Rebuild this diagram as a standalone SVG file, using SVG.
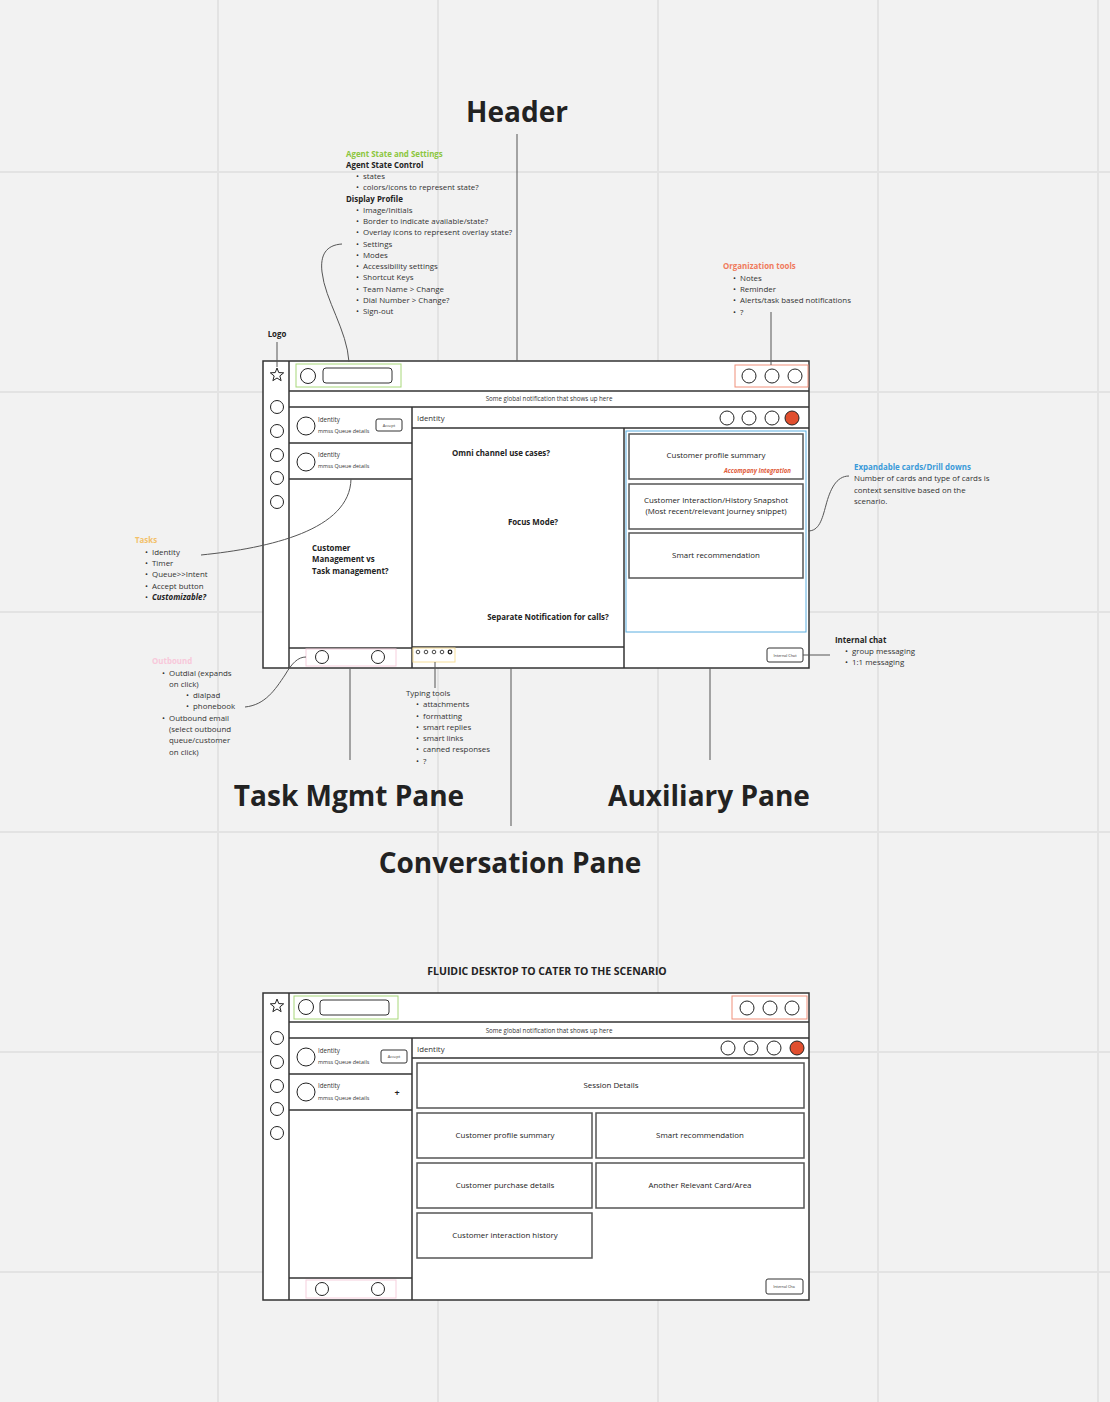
<svg xmlns="http://www.w3.org/2000/svg" xmlns:xlink="http://www.w3.org/1999/xlink" width="1110" height="1402" viewBox="0 0 1110 1402">
<style>
text{font-family:"Open Sans","Liberation Sans",sans-serif;fill:#333}
.ann{font-size:7.9px}
.b{font-weight:700}
.big{font-size:28px;font-weight:700;fill:#222;text-anchor:middle}
.card{font-size:7.9px;text-anchor:middle;fill:#222}
.q{font-size:7.9px;font-weight:700;fill:#222}
.sm{font-size:6.2px;fill:#333}
.xs{font-size:5.4px;fill:#333}
.notif{font-size:6.2px;text-anchor:middle;fill:#333}
.frame{fill:#fff;stroke:#333;stroke-width:1.5}
.ln{stroke:#333;stroke-width:1.5;fill:none}
.cardr{fill:#fff;stroke:#555;stroke-width:1.5}
.c{fill:#fff;stroke:#222;stroke-width:1}
.conn{fill:none;stroke:#555;stroke-width:1}
.grid{stroke:#e3e3e3;stroke-width:2}
.btn{fill:#fff;stroke:#333;stroke-width:1}
</style>
<defs>
<path id="star" d="M0,-7 L1.76,-2.43 L6.66,-2.16 L2.85,0.93 L4.11,5.66 L0,3 L-4.11,5.66 L-2.85,0.93 L-6.66,-2.16 L-1.76,-2.43 Z" fill="#fff" stroke="#222" stroke-width="1"/>
</defs>
<rect width="1110" height="1402" fill="#f2f2f2"/>
<g id="grid">
<line class="grid" x1="218" y1="0" x2="218" y2="1402"/>
<line class="grid" x1="438" y1="0" x2="438" y2="1402"/>
<line class="grid" x1="658" y1="0" x2="658" y2="1402"/>
<line class="grid" x1="878" y1="0" x2="878" y2="1402"/>
<line class="grid" x1="1098" y1="0" x2="1098" y2="1402"/>
<line class="grid" x1="0" y1="172" x2="1110" y2="172"/>
<line class="grid" x1="0" y1="392" x2="1110" y2="392"/>
<line class="grid" x1="0" y1="612" x2="1110" y2="612"/>
<line class="grid" x1="0" y1="832" x2="1110" y2="832"/>
<line class="grid" x1="0" y1="1052" x2="1110" y2="1052"/>
<line class="grid" x1="0" y1="1272" x2="1110" y2="1272"/>
</g>

<g id="big-labels">
<text class="big" x="517" y="122">Header</text>
<text class="big" x="349" y="806">Task Mgmt Pane</text>
<text class="big" x="709" y="806">Auxiliary Pane</text>
<text class="big" x="510" y="873">Conversation Pane</text>
</g>

<g id="note-agent">
<text class="ann b" x="346" y="157" style="fill:#8cc63e">Agent State and Settings</text>
<text class="ann b" x="346" y="168" style="fill:#222">Agent State Control</text>
<text class="ann" x="356" y="179">•</text><text class="ann" x="363" y="179">states</text>
<text class="ann" x="356" y="190">•</text><text class="ann" x="363" y="190">colors/icons to represent state?</text>
<text class="ann b" x="346" y="202" style="fill:#222">Display Profile</text>
<text class="ann" x="356" y="213">•</text><text class="ann" x="363" y="213">Image/Initials</text>
<text class="ann" x="356" y="224">•</text><text class="ann" x="363" y="224">Border to indicate available/state?</text>
<text class="ann" x="356" y="235">•</text><text class="ann" x="363" y="235">Overlay icons to represent overlay state?</text>
<text class="ann" x="356" y="247">•</text><text class="ann" x="363" y="247">Settings</text>
<text class="ann" x="356" y="258">•</text><text class="ann" x="363" y="258">Modes</text>
<text class="ann" x="356" y="269">•</text><text class="ann" x="363" y="269">Accessibility settings</text>
<text class="ann" x="356" y="280">•</text><text class="ann" x="363" y="280">Shortcut Keys</text>
<text class="ann" x="356" y="292">•</text><text class="ann" x="363" y="292">Team Name &gt; Change</text>
<text class="ann" x="356" y="303">•</text><text class="ann" x="363" y="303">Dial Number &gt; Change?</text>
<text class="ann" x="356" y="314">•</text><text class="ann" x="363" y="314">Sign-out</text>
</g>

<g id="note-logo"><text class="ann b" x="277" y="337" text-anchor="middle" style="fill:#222">Logo</text></g>

<g id="note-org">
<text class="ann b" x="723" y="269" style="fill:#f07a5c">Organization tools</text>
<text class="ann" x="733" y="281">•</text><text class="ann" x="740" y="281">Notes</text>
<text class="ann" x="733" y="292">•</text><text class="ann" x="740" y="292">Reminder</text>
<text class="ann" x="733" y="303">•</text><text class="ann" x="740" y="303">Alerts/task based notifications</text>
<text class="ann" x="733" y="315">•</text><text class="ann" x="740" y="315">?</text>
</g>

<g id="note-cards">
<text class="ann b" x="854" y="470" style="fill:#3a9ad9">Expandable cards/Drill downs</text>
<text class="ann" x="854" y="481">Number of cards and type of cards is</text>
<text class="ann" x="854" y="493">context sensitive based on the</text>
<text class="ann" x="854" y="504">scenario.</text>
</g>

<g id="note-tasks">
<text class="ann b" x="135" y="543" style="fill:#f3c16a">Tasks</text>
<text class="ann" x="145" y="555">•</text><text class="ann" x="152" y="555">Identity</text>
<text class="ann" x="145" y="566">•</text><text class="ann" x="152" y="566">Timer</text>
<text class="ann" x="145" y="577">•</text><text class="ann" x="152" y="577">Queue&gt;&gt;Intent</text>
<text class="ann" x="145" y="589">•</text><text class="ann" x="152" y="589">Accept button</text>
<text class="ann" x="145" y="600">•</text><text class="ann b" x="152" y="600" style="font-style:italic;fill:#222">Customizable?</text>
</g>

<g id="note-outbound">
<text class="ann b" x="152" y="664" style="fill:#f8c8da">Outbound</text>
<text class="ann" x="162" y="676">•</text><text class="ann" x="169" y="676">Outdial (expands</text>
<text class="ann" x="169" y="687">on click)</text>
<text class="ann" x="186" y="698">•</text><text class="ann" x="193" y="698">dialpad</text>
<text class="ann" x="186" y="709">•</text><text class="ann" x="193" y="709">phonebook</text>
<text class="ann" x="162" y="721">•</text><text class="ann" x="169" y="721">Outbound email</text>
<text class="ann" x="169" y="732">(select outbound</text>
<text class="ann" x="169" y="743">queue/customer</text>
<text class="ann" x="169" y="755">on click)</text>
</g>

<g id="note-typing">
<text class="ann" x="406" y="696">Typing tools</text>
<text class="ann" x="416" y="707">•</text><text class="ann" x="423" y="707">attachments</text>
<text class="ann" x="416" y="719">•</text><text class="ann" x="423" y="719">formatting</text>
<text class="ann" x="416" y="730">•</text><text class="ann" x="423" y="730">smart replies</text>
<text class="ann" x="416" y="741">•</text><text class="ann" x="423" y="741">smart links</text>
<text class="ann" x="416" y="752">•</text><text class="ann" x="423" y="752">canned responses</text>
<text class="ann" x="416" y="764">•</text><text class="ann" x="423" y="764">?</text>
</g>

<g id="note-chat">
<text class="ann b" x="835" y="643" style="fill:#222">Internal chat</text>
<text class="ann" x="845" y="654">•</text><text class="ann" x="852" y="654">group messaging</text>
<text class="ann" x="845" y="665">•</text><text class="ann" x="852" y="665">1:1 messaging</text>
</g>

<g id="wireframe-1">
<rect class="frame" x="263" y="361" width="546" height="307"/>
<line class="ln" x1="289" y1="361" x2="289" y2="668"/>
<line class="ln" x1="289" y1="391" x2="809" y2="391"/>
<line class="ln" x1="289" y1="407" x2="809" y2="407"/>
<line class="ln" x1="412" y1="407" x2="412" y2="668"/>
<line class="ln" x1="289" y1="443" x2="412" y2="443"/>
<line class="ln" x1="289" y1="479" x2="412" y2="479"/>
<line class="ln" x1="289" y1="648" x2="412" y2="648"/>
<line class="ln" x1="412" y1="428" x2="809" y2="428"/>
<line class="ln" x1="624" y1="428" x2="624" y2="668"/>
<line class="ln" x1="412" y1="647" x2="624" y2="647"/>
<use href="#star" x="277" y="375"/>
<circle class="c" cx="277" cy="407" r="6.5"/>
<circle class="c" cx="277" cy="431" r="6.5"/>
<circle class="c" cx="277" cy="455" r="6.5"/>
<circle class="c" cx="277" cy="478" r="6.5"/>
<circle class="c" cx="277" cy="502" r="6.5"/>
<rect x="296" y="364" width="105" height="23" fill="none" stroke="#a8d87a" stroke-width="1"/>
<circle class="c" cx="308" cy="376" r="7.5"/>
<rect x="323" y="368" width="69" height="15" rx="3" fill="#fff" stroke="#333" stroke-width="1"/>
<rect x="735" y="365" width="73" height="22" fill="none" stroke="#f0907a" stroke-width="1"/>
<circle class="c" cx="749" cy="376" r="7"/>
<circle class="c" cx="772" cy="376" r="7"/>
<circle class="c" cx="795" cy="376" r="7"/>
<text class="notif" x="549" y="401">Some global notification that shows up here</text>
<circle class="c" cx="306" cy="426" r="9"/>
<text class="sm" x="318" y="422">Identity</text>
<text class="xs" x="318" y="433">mmss  Queue details</text>
<rect class="btn" x="376" y="419" width="26" height="12" rx="2"/>
<text class="xs" x="389" y="427" text-anchor="middle" style="font-size:4px">Accept</text>
<circle class="c" cx="306" cy="462" r="9"/>
<text class="sm" x="318" y="457">Identity</text>
<text class="xs" x="318" y="468">mmss  Queue details</text>
<text class="q" x="312" y="551">Customer</text>
<text class="q" x="312" y="562">Management vs</text>
<text class="q" x="312" y="574">Task management?</text>
<rect x="306" y="649" width="90" height="17" fill="#fff" stroke="#f6cfdd" stroke-width="1"/>
<circle class="c" cx="322" cy="657" r="6.5"/>
<circle class="c" cx="378" cy="657" r="6.5"/>
<text class="sm" x="417" y="421" style="font-size:7.8px">Identity</text>
<circle class="c" cx="727" cy="418" r="7"/>
<circle class="c" cx="749" cy="418" r="7"/>
<circle class="c" cx="772" cy="418" r="7"/>
<circle cx="792" cy="418" r="7" fill="#e04e2e" stroke="#222" stroke-width="1"/>
<text class="q" x="501" y="456" text-anchor="middle">Omni channel use cases?</text>
<text class="q" x="533" y="525" text-anchor="middle">Focus Mode?</text>
<text class="q" x="548" y="620" text-anchor="middle">Separate Notification for calls?</text>
<rect x="413" y="648" width="42" height="14" fill="#fff" stroke="#f7df9a" stroke-width="1"/>
<circle cx="418" cy="652" r="1.8" fill="none" stroke="#333" stroke-width="0.9"/>
<circle cx="426" cy="652" r="1.8" fill="none" stroke="#333" stroke-width="0.9"/>
<circle cx="434" cy="652" r="1.8" fill="none" stroke="#333" stroke-width="0.9"/>
<circle cx="442" cy="652" r="1.8" fill="none" stroke="#333" stroke-width="0.9"/>
<circle cx="450" cy="652" r="1.8" fill="none" stroke="#222" stroke-width="1.3"/>
<rect x="626" y="431" width="180" height="201" fill="#fff" stroke="#5aaee0" stroke-width="1"/>
<rect class="cardr" x="629" y="434" width="174" height="45"/>
<text class="card" x="716" y="458">Customer profile summary</text>
<text x="791" y="473" text-anchor="end" style="font-size:6.1px;font-weight:700;font-style:italic;fill:#e05a3a">Accompany Integration</text>
<rect class="cardr" x="629" y="484" width="174" height="45"/>
<text class="card" x="716" y="503">Customer Interaction/History Snapshot</text>
<text class="card" x="716" y="514">(Most recent/relevant journey snippet)</text>
<rect class="cardr" x="629" y="533" width="174" height="45"/>
<text class="card" x="716" y="558">Smart recommendation</text>
<rect class="btn" x="767" y="648" width="36" height="14" rx="2"/>
<text class="xs" x="785" y="657" text-anchor="middle" style="font-size:3.8px">Internal Chat</text>
</g>

<g id="title-2"><text x="547" y="975" text-anchor="middle" style="font-size:10.5px;font-weight:700;fill:#222">FLUIDIC DESKTOP TO CATER TO THE SCENARIO</text></g>

<g id="wireframe-2">
<rect class="frame" x="263" y="993" width="546" height="307"/>
<line class="ln" x1="289" y1="993" x2="289" y2="1300"/>
<line class="ln" x1="289" y1="1022" x2="809" y2="1022"/>
<line class="ln" x1="289" y1="1038" x2="809" y2="1038"/>
<line class="ln" x1="412" y1="1038" x2="412" y2="1300"/>
<line class="ln" x1="289" y1="1074" x2="412" y2="1074"/>
<line class="ln" x1="289" y1="1110" x2="412" y2="1110"/>
<line class="ln" x1="289" y1="1278" x2="412" y2="1278"/>
<line class="ln" x1="412" y1="1058" x2="809" y2="1058"/>
<use href="#star" x="277" y="1006"/>
<circle class="c" cx="277" cy="1038" r="6.5"/>
<circle class="c" cx="277" cy="1062" r="6.5"/>
<circle class="c" cx="277" cy="1086" r="6.5"/>
<circle class="c" cx="277" cy="1109" r="6.5"/>
<circle class="c" cx="277" cy="1133" r="6.5"/>
<rect x="294" y="996" width="104" height="23" fill="none" stroke="#a8d87a" stroke-width="1"/>
<circle class="c" cx="306" cy="1007" r="7.5"/>
<rect x="320" y="1000" width="69" height="15" rx="3" fill="#fff" stroke="#333" stroke-width="1"/>
<rect x="732" y="996" width="75" height="23" fill="none" stroke="#f0907a" stroke-width="1"/>
<circle class="c" cx="747" cy="1008" r="7"/>
<circle class="c" cx="770" cy="1008" r="7"/>
<circle class="c" cx="792" cy="1008" r="7"/>
<text class="notif" x="549" y="1033">Some global notification that shows up here</text>
<circle class="c" cx="306" cy="1057" r="9"/>
<text class="sm" x="318" y="1053">Identity</text>
<text class="xs" x="318" y="1064">mmss  Queue details</text>
<rect class="btn" x="381" y="1050" width="26" height="13" rx="2"/>
<text class="xs" x="394" y="1058" text-anchor="middle" style="font-size:4px">Accept</text>
<circle class="c" cx="306" cy="1092" r="9"/>
<text class="sm" x="318" y="1088">Identity</text>
<text class="xs" x="318" y="1100">mmss  Queue details</text>
<text x="397" y="1096" text-anchor="middle" style="font-size:9px;font-weight:700;fill:#222">+</text>
<rect x="306" y="1280" width="90" height="18" fill="#fff" stroke="#f6cfdd" stroke-width="1"/>
<circle class="c" cx="322" cy="1289" r="6.5"/>
<circle class="c" cx="378" cy="1289" r="6.5"/>
<text class="sm" x="417" y="1052" style="font-size:7.8px">Identity</text>
<circle class="c" cx="728" cy="1048" r="7"/>
<circle class="c" cx="751" cy="1048" r="7"/>
<circle class="c" cx="774" cy="1048" r="7"/>
<circle cx="797" cy="1048" r="7" fill="#e04e2e" stroke="#222" stroke-width="1"/>
<rect class="cardr" x="417" y="1063" width="387" height="45"/>
<text class="card" x="611" y="1088">Session Details</text>
<rect class="cardr" x="417" y="1113" width="175" height="45"/>
<text class="card" x="505" y="1138">Customer profile summary</text>
<rect class="cardr" x="596" y="1113" width="208" height="45"/>
<text class="card" x="700" y="1138">Smart recommendation</text>
<rect class="cardr" x="417" y="1163" width="175" height="45"/>
<text class="card" x="505" y="1188">Customer purchase details</text>
<rect class="cardr" x="596" y="1163" width="208" height="45"/>
<text class="card" x="700" y="1188">Another Relevant Card/Area</text>
<rect class="cardr" x="417" y="1213" width="175" height="45"/>
<text class="card" x="505" y="1238">Customer interaction history</text>
<rect class="btn" x="766" y="1279" width="37" height="15" rx="2"/>
<text class="xs" x="784" y="1288" text-anchor="middle" style="font-size:3.8px">Internal Cha</text>
</g>

<g id="connectors">
<line class="conn" x1="517" y1="134" x2="517" y2="361"/>
<line class="conn" x1="277" y1="342" x2="277" y2="367"/>
<path class="conn" d="M342,244 C326,245 320,255 322,272 C325,300 347,330 349,362"/>
<line class="conn" x1="771" y1="312" x2="771" y2="365"/>
<path class="conn" d="M849,476 C836,476 830,490 826,505 C822,520 819,531 808,531"/>
<path class="conn" d="M201,555 C270,548 350,530 351,479"/>
<path class="conn" d="M245,707 C265,705 275,690 285,675 C292,663 298,657 306,657"/>
<line class="conn" x1="350" y1="669" x2="350" y2="760"/>
<line class="conn" x1="435" y1="662" x2="435" y2="688"/>
<line class="conn" x1="511" y1="668" x2="511" y2="826"/>
<line class="conn" x1="710" y1="668" x2="710" y2="760"/>
<line class="conn" x1="803" y1="655" x2="830" y2="655"/>
</g>
</svg>
